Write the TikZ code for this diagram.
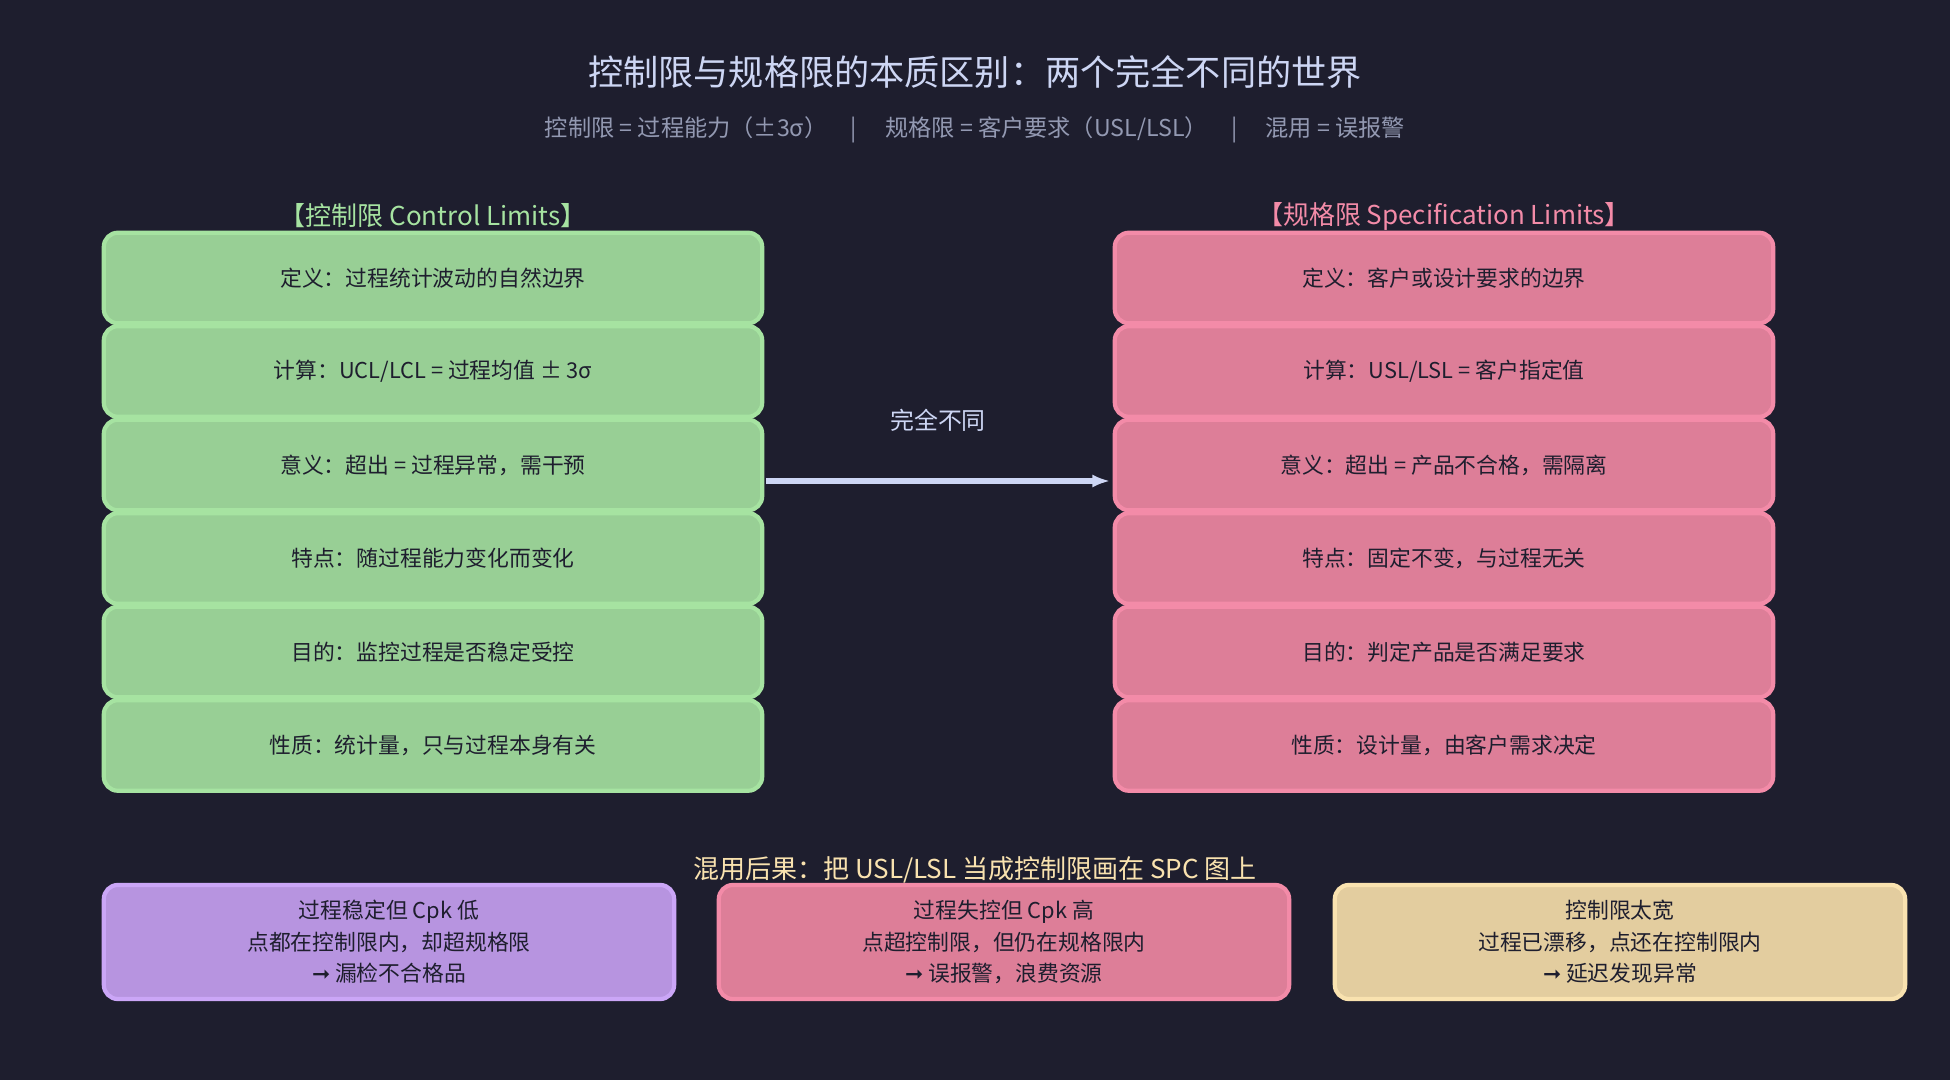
\documentclass[tikz,border=0pt]{standalone}
\usepackage{fontspec}
\setmainfont{Noto Sans CJK SC}
\newfontfamily\dvs{DejaVu Sans}
\usetikzlibrary{arrows.meta}
\begin{document}
\begin{tikzpicture}[x=0.01cm,y=-0.01cm,
 bx/.style={draw, line width=1.2pt, rounded corners=4pt, inner sep=0pt},
 tx/.style={font=\fontsize{6.2}{9}\selectfont, text=textc, align=center},
 hd/.style={font=\fontsize{7.4}{9}\selectfont}]
\definecolor{bg}{HTML}{1E1E2E}\definecolor{textc}{HTML}{1E1E2E}
\definecolor{gf}{HTML}{98CF95}\definecolor{gd}{HTML}{A6E3A1}
\definecolor{pf}{HTML}{DD7E98}\definecolor{pd}{HTML}{F38BA8}
\definecolor{vf}{HTML}{B794E0}\definecolor{vd}{HTML}{CBA6F7}
\definecolor{yf}{HTML}{E3CD9F}\definecolor{yd}{HTML}{F9E2AF}
\definecolor{tt}{HTML}{CDD6F4}\definecolor{st}{HTML}{9399B2}
\fill[bg] (0,0) rectangle (1950,1080);
\useasboundingbox (0,0) rectangle (1950,1080);
\node[text=tt,font=\fontsize{10}{12}\selectfont] (title) at (975,72) {控制限与规格限的本质区别：两个完全不同的世界};
\node[text=st,font=\fontsize{6.6}{8}\selectfont] (sub) at (975,130) {控制限 = 过程能力（±3σ）\quad | \quad 规格限 = 客户要求（USL/LSL）\quad | \quad 混用 = 误报警};
\node[hd,text=gd] (hl) at (433,216) {【控制限 Control Limits】};
\node[hd,text=pd] (hr) at (1444,216) {【规格限 Specification Limits】};
\foreach \i/\a/\b in {0/{定义：过程统计波动的自然边界}/{定义：客户或设计要求的边界},
 1/{计算：UCL/LCL = 过程均值 ± 3σ}/{计算：USL/LSL = 客户指定值},
 2/{意义：超出 = 过程异常，需干预}/{意义：超出 = 产品不合格，需隔离},
 3/{特点：随过程能力变化而变化}/{特点：固定不变，与过程无关},
 4/{目的：监控过程是否稳定受控}/{目的：判定产品是否满足要求},
 5/{性质：统计量，只与过程本身有关}/{性质：设计量，由客户需求决定}}{
 \node[bx,fill=gf,draw=gd,minimum width=6.58cm,minimum height=0.905cm,tx] (l\i) at (433,{278+93.5*\i}) {\a};
 \node[bx,fill=pf,draw=pd,minimum width=6.58cm,minimum height=0.905cm,tx] (r\i) at (1444,{278+93.5*\i}) {\b};
}
\coordinate (as) at (766,481);
\coordinate (ae) at (1110,481);
\draw[draw=tt,line width=1.5pt,-{Latex[length=5pt]}] (as) -- (ae) node[midway,above=0.35cm,text=tt,font=\fontsize{6.8}{8}\selectfont] (lab) {完全不同};
\node[hd,text=yd] (bl) at (975,870) {混用后果：把 USL/LSL 当成控制限画在 SPC 图上};
\node[bx,fill=vf,draw=vd,minimum width=5.7cm,minimum height=1.14cm,tx] (b1) at (389,942) {过程稳定但 Cpk 低\\点都在控制限内，却超规格限\\{\dvs ➞} 漏检不合格品};
\node[bx,fill=pf,draw=pd,minimum width=5.7cm,minimum height=1.14cm,tx] (b2) at (1004,942) {过程失控但 Cpk 高\\点超控制限，但仍在规格限内\\{\dvs ➞} 误报警，浪费资源};
\node[bx,fill=yf,draw=yd,minimum width=5.7cm,minimum height=1.14cm,tx] (b3) at (1620,942) {控制限太宽\\过程已漂移，点还在控制限内\\{\dvs ➞} 延迟发现异常};
\end{tikzpicture}
\end{document}
